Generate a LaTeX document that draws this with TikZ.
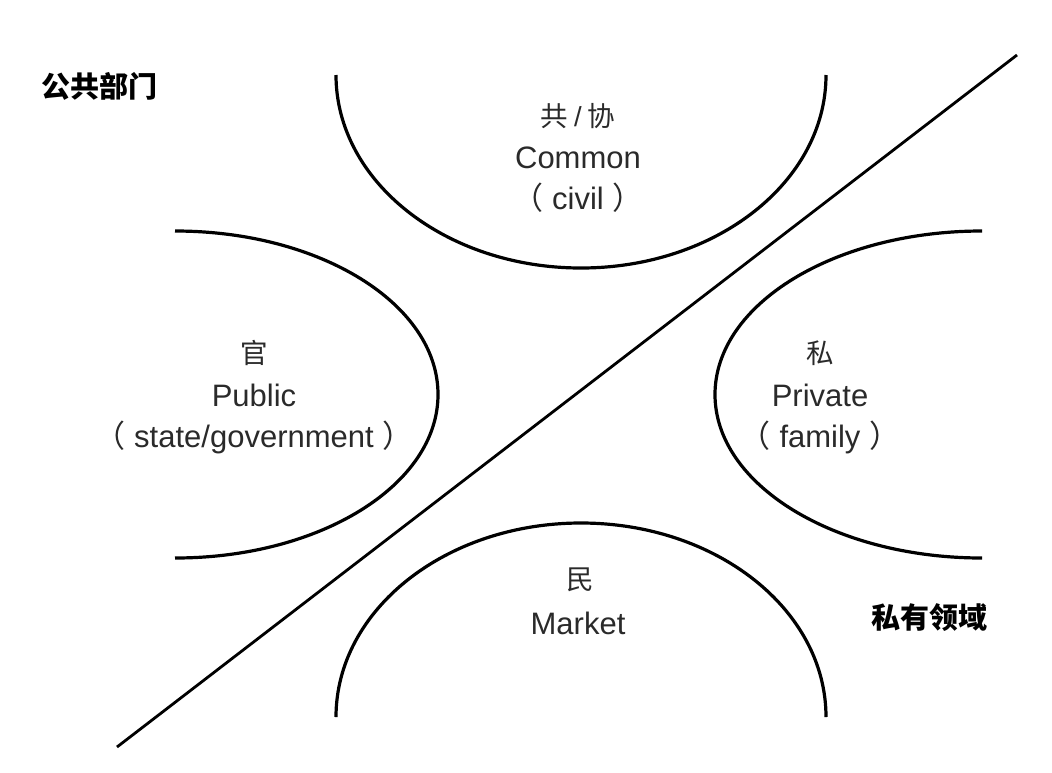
\documentclass[tikz,border=0pt]{standalone}
\usepackage{fontspec}
\setmainfont{Liberation Sans}
\newfontfamily\cjk{Noto Sans CJK SC}
\definecolor{txt}{HTML}{2A2A2A}
\begin{document}
\begin{tikzpicture}[x=1pt,y=-1pt,
  curve/.style={line width=3.2pt,black},
  lat/.style={text=txt,inner sep=0pt,font=\fontsize{31}{36}\selectfont},
  han/.style={text=txt,inner sep=0pt,font=\cjk\fontsize{27.5}{30}\selectfont},
  tag/.style={text=black,inner sep=0pt,font=\cjk\bfseries\fontsize{29}{32}\selectfont}]
\useasboundingbox (0,0) rectangle (1052,772);
% curves
\draw[curve] (336,75) arc[start angle=180,end angle=360,x radius=245pt,y radius=193pt];
\draw[curve] (175,231) arc[start angle=90,end angle=-90,x radius=263pt,y radius=163.5pt];
\draw[curve] (982,231) arc[start angle=90,end angle=270,x radius=267pt,y radius=163.5pt];
\draw[curve] (336,717) arc[start angle=180,end angle=0,x radius=245pt,y radius=194pt];
% diagonal
\coordinate (d1) at (117,747);
\coordinate (d2) at (1017,55);
\draw[line width=2.8pt] (d1) -- (d2);
% labels
\node[tag] (pub) at (99,86) {公共部门};
\node[tag] (pri) at (929,618) {私有领域};
\node[han] (c1) at (578,116) {共 {\fontspec{Liberation Sans}/} 协};
\node[lat] (c2) at (578,158) {Common};
\node[lat] (c3) at (578,198) {{\cjk （} civil {\cjk ）}};
\node[han] (g1) at (254,353) {官};
\node[lat] (g2) at (254,395) {Public};
\node[lat] (g3) at (254,437) {{\cjk （} state/government {\cjk ）}};
\node[han] (p1) at (820,353) {私};
\node[lat] (p2) at (820,395) {Private};
\node[lat] (p3) at (820,437) {{\cjk （} family {\cjk ）}};
\node[han] (m1) at (580,580) {民};
\node[lat] (m2) at (578,623) {Market};
\end{tikzpicture}
\end{document}
